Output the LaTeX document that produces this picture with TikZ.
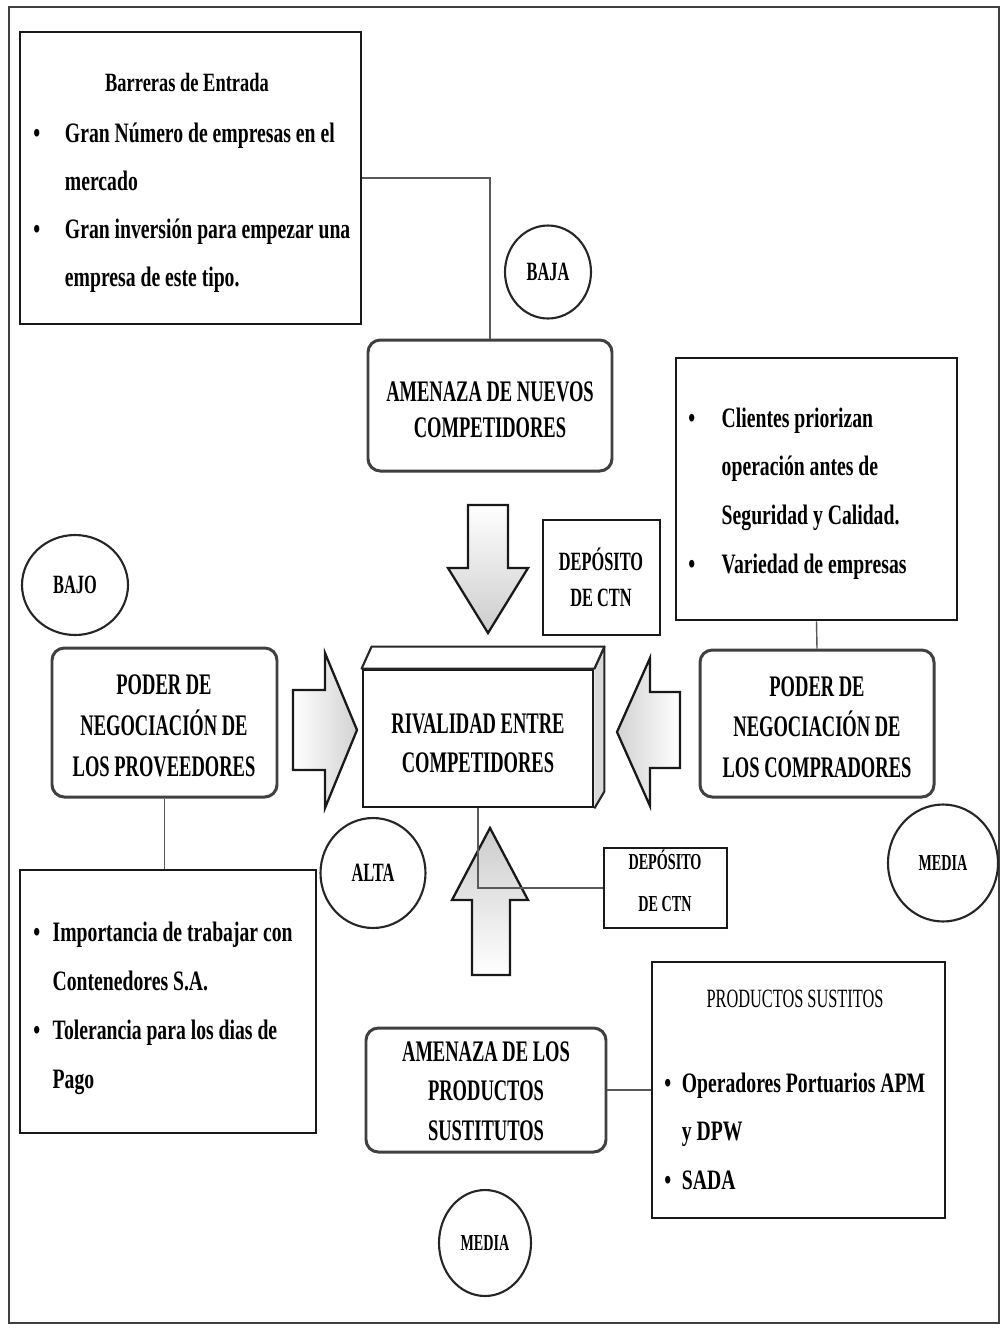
\documentclass[tikz,border=0pt]{standalone}
\usepackage{fontspec}
\setmainfont{Liberation Serif}[FakeStretch=0.7]
\newfontfamily\capsfont{Liberation Serif}[FakeStretch=0.62]
\usetikzlibrary{fit,shapes.geometric,calc}

\tikzset{
  frame/.style={draw=black!75, line width=0.7pt},
  box/.style={draw=black!90, line width=1.6pt, inner sep=0pt},
  rbox/.style={box, draw=black!75, rounded corners=7pt, line width=1.7pt},
  ring/.style={ellipse, draw=black!85, line width=1.2pt, inner sep=0pt,
    font=\capsfont\bfseries\fontsize{15}{17}\selectfont},
  smallring/.style={ring, font=\capsfont\bfseries\fontsize{13}{15}\selectfont},
  link/.style={draw=black!65, line width=0.8pt},
  blockarrow/.style={draw=black!90, line width=1.3pt, line join=miter},
  txt/.style={inner sep=0pt, anchor=base west,
    font=\bfseries\fontsize{16}{#1}\selectfont},
  caps/.style={inner sep=0pt, anchor=base,
    font=\capsfont\bfseries\fontsize{17}{#1}\selectfont},
}

\begin{document}
\begin{tikzpicture}[x=0.02cm, y=-0.02cm]
  \useasboundingbox (0,0) rectangle (1007,1329);
  \fill[white] (0,0) rectangle (1007,1329);
  \draw[frame] (9,7) rectangle (999,1323);

  % ---------- boxes ----------
  \node[box, fit={(20,32) (361,324)}] (barreras) {};
  \node[rbox, fit={(368,340) (612,471)}] (nuevos) {};
  \node[box, fit={(543,520) (660,635)}] (dep1) {};
  \node[box, fit={(676,358) (957,620)}] (clientes) {};
  \node[rbox, fit={(52,648) (277,797)}] (proveedores) {};
  \node[rbox, fit={(700,650) (934,797)}] (compradores) {};
  \node[box, fit={(604,848) (727,928)}] (dep2) {};
  \node[box, fit={(20,870) (316,1133)}] (importancia) {};
  \node[rbox, fit={(366,1028) (606,1152)}] (sustitutos) {};
  \node[box, fit={(652,962) (945,1218)}] (productos) {};

  % ---------- central block drawn as a cuboid ----------
  \node[box, fill=white, fit={(363,670) (593,807)}] (rivalidad) {};
  \coordinate (rivTopBack) at ($(rivalidad.north east)+(10,-22)$);
  \coordinate (rivBotBack) at ($(rivalidad.south east)+(10,-17)$);
  \filldraw[fill=gray!30, draw=black!85, line width=1.2pt, line join=round]
    (rivalidad.north east) -- (rivTopBack) -- (rivBotBack) -- (rivalidad.south east);
  \filldraw[fill=white, draw=black!85, line width=1.2pt, line join=round]
    (rivalidad.north west) -- ($(rivalidad.north west)+(10,-22)$) -- (rivTopBack)
    -- (rivalidad.north east) -- cycle;

  % ---------- rating circles ----------
  \node[ring, minimum width=1.72cm, minimum height=1.86cm] (baja) at (548,272) {BAJA};
  \node[ring, minimum width=2.12cm, minimum height=2.0cm] (bajo) at (75,585) {BAJO};
  \node[ring, minimum width=2.1cm, minimum height=2.2cm] (alta) at (373,873) {ALTA};
  \node[smallring, minimum width=2.2cm, minimum height=2.34cm] (media1) at (943,863) {MEDIA};
  \node[smallring, minimum width=1.84cm, minimum height=2.12cm] (media2) at (485,1243) {MEDIA};

  % ---------- block arrows ----------
  \filldraw[blockarrow, top color=white, bottom color=gray!40]
    (468,505) -- (508,505) -- (508,568) -- (528,568) -- (488,633)
    -- (448,568) -- (468,568) -- cycle;
  \filldraw[blockarrow, left color=white, right color=gray!35]
    (293,690) -- (325,690) -- (325,653) -- (357,730) -- (325,808)
    -- (325,770) -- (293,770) -- cycle;
  \filldraw[blockarrow, right color=white, left color=gray!35]
    (680,692) -- (650,692) -- (650,658) -- (617,732) -- (650,806)
    -- (650,768) -- (680,768) -- cycle;
  \filldraw[blockarrow, bottom color=white, top color=gray!40]
    (472,975) -- (472,900) -- (452,900) -- (490,828) -- (528,900)
    -- (510,900) -- (510,975) -- cycle;

  % ---------- connectors ----------
  \draw[link] (barreras.east) -| (nuevos.north);
  \draw[link] (clientes.south) -- (compradores.north);
  \draw[link] (proveedores.south) -- (proveedores.south |- importancia.north);
  \draw[link] (rivalidad.south) |- (dep2.west);
  \draw[link] (sustitutos.east) -- (sustitutos.east -| productos.west);

  % ---------- texts ----------
  \node[inner sep=0pt, anchor=base, font=\bfseries\fontsize{15}{18}\selectfont]
    (barrerasTitle) at (187,91) {Barreras de Entrada};
  \node[txt=27.4pt] (barrerasList) at (33,142) {\begin{tabular}[t]{@{}l@{}}
    \makebox[18pt][l]{\textbullet}Gran Número de empresas en el\\
    \hspace*{18pt}mercado\\
    \makebox[18pt][l]{\textbullet}Gran inversión para empezar una\\
    \hspace*{18pt}empresa de este tipo.
  \end{tabular}};

  \node[caps=21pt] (nuevosText) at (490,401) {\begin{tabular}[t]{@{}c@{}}
    AMENAZA DE NUEVOS\\COMPETIDORES\end{tabular}};

  \node[caps=21pt, font=\capsfont\bfseries\fontsize{15}{21}\selectfont]
    (dep1Text) at (601,570) {\begin{tabular}[t]{@{}c@{}}
    DEPÓSITO\\DE CTN\end{tabular}};

  \node[txt=27.8pt] (clientesList) at (688,427) {\begin{tabular}[t]{@{}l@{}}
    \makebox[19pt][l]{\textbullet}Clientes priorizan\\
    \hspace*{19pt}operación antes de\\
    \hspace*{19pt}Seguridad y Calidad.\\
    \makebox[19pt][l]{\textbullet}Variedad de empresas
  \end{tabular}};

  \node[caps=23.5pt] (proveedoresText) at (164,694) {\begin{tabular}[t]{@{}c@{}}
    PODER DE\\NEGOCIACIÓN DE\\LOS PROVEEDORES\end{tabular}};

  \node[caps=22.7pt] (rivalidadText) at (478,733) {\begin{tabular}[t]{@{}c@{}}
    RIVALIDAD ENTRE\\COMPETIDORES\end{tabular}};

  \node[caps=23.2pt] (compradoresText) at (817,696) {\begin{tabular}[t]{@{}c@{}}
    PODER DE\\NEGOCIACIÓN DE\\LOS COMPRADORES\end{tabular}};

  \node[caps=24pt, font=\capsfont\bfseries\fontsize{13}{24}\selectfont]
    (dep2Text) at (665,869) {\begin{tabular}[t]{@{}c@{}}
    DEPÓSITO\\DE CTN\end{tabular}};

  \node[txt=27.9pt] (importanciaList) at (33,941) {\begin{tabular}[t]{@{}l@{}}
    \makebox[11pt][l]{\textbullet}Importancia de trabajar con\\
    \hspace*{11pt}Contenedores S.A.\\
    \makebox[11pt][l]{\textbullet}Tolerancia para los dias de\\
    \hspace*{11pt}Pago
  \end{tabular}};

  \node[caps=22.7pt] (sustitutosText) at (486,1061) {\begin{tabular}[t]{@{}c@{}}
    AMENAZA DE LOS\\PRODUCTOS\\SUSTITUTOS\end{tabular}};

  \node[inner sep=0pt, anchor=base, font=\capsfont\fontsize{15}{18}\selectfont]
    (productosTitle) at (795,1007) {PRODUCTOS SUSTITOS};
  \node[txt=27.8pt] (productosList) at (664,1092) {\begin{tabular}[t]{@{}l@{}}
    \makebox[10pt][l]{\textbullet}Operadores Portuarios APM\\
    \hspace*{10pt}y DPW\\
    \makebox[10pt][l]{\textbullet}SADA
  \end{tabular}};
\end{tikzpicture}
\end{document}
